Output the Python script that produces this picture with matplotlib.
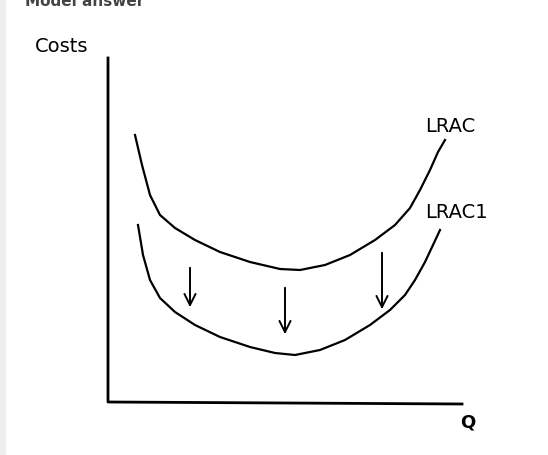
import matplotlib
matplotlib.use("Agg")
import matplotlib.pyplot as plt

# Hand-drawn sketch points (pixel space of the picture)
lrac_x = [135, 142, 150, 160, 175, 195, 220, 250, 280, 300, 325, 350, 375, 395, 410, 420, 430, 438, 445]
lrac_y = [135, 165, 195, 215, 228, 240, 252, 262, 269, 270, 265, 255, 240, 225, 208, 190, 170, 152, 140]
lrac1_x = [138, 143, 150, 160, 175, 195, 220, 250, 275, 295, 320, 345, 370, 390, 405, 415, 425, 433, 440]
lrac1_y = [225, 255, 280, 298, 312, 325, 337, 347, 353, 355, 350, 340, 325, 310, 295, 280, 262, 245, 230]
arrow_x = [190, 285, 382]
arrow_top = [265, 285, 250]
arrow_bot = [310, 337, 312]

fig = plt.figure(figsize=(5.48, 4.55), dpi=100)
ax = fig.add_axes([0, 0, 1, 1])
ax.set_xlim(0, 548); ax.set_ylim(455, 0); ax.axis("off")
ax.axvspan(0, 5, color="#eeeeee")
ax.text(25, 2, "Model answer", fontsize=11, fontweight="bold", color="#444444", va="center")

ax.plot([108, 108, 462], [58, 402, 404], color="black", lw=2)
ax.plot(lrac_x, lrac_y, color="black", lw=1.6)
ax.plot(lrac1_x, lrac1_y, color="black", lw=1.6)
for x, t, b in zip(arrow_x, arrow_top, arrow_bot):
    ax.annotate("", xy=(x, b), xytext=(x, t),
                arrowprops=dict(arrowstyle="->,head_length=0.8,head_width=0.4", color="black", lw=1.4))

ax.text(35, 47, "Costs", fontsize=14, va="center")
ax.text(425, 127, "LRAC", fontsize=14, va="center")
ax.text(425, 212, "LRAC1", fontsize=14, va="center")
ax.text(460, 422, "Q", fontsize=13, va="center", fontweight="bold")
fig.savefig("out.png", dpi=100)
